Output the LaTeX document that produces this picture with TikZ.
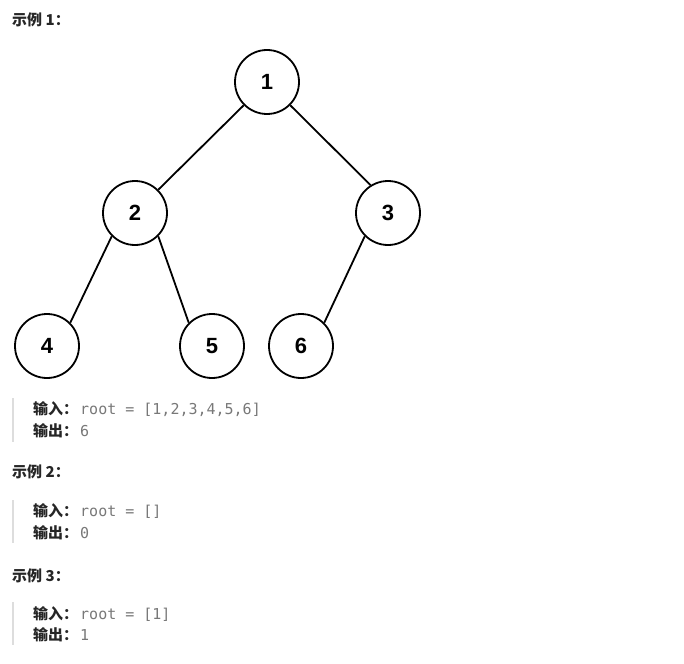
\documentclass[tikz,border=0pt]{standalone}
\usepackage{fontspec}
\setmainfont{Liberation Sans}
\newfontfamily\cjk{Noto Sans CJK SC}
\newfontfamily\monof{DejaVu Sans Mono}
\definecolor{txt}{HTML}{262626}
\definecolor{val}{HTML}{787878}
\definecolor{barc}{HTML}{DDDDDD}
\begin{document}
\begin{tikzpicture}[x=1pt,y=-1pt,
  tnode/.style={circle,draw=black,line width=1.8pt,minimum size=64pt,inner sep=0pt,font=\fontsize{22}{22}\selectfont\bfseries},
  edge/.style={line width=1.8pt,black},
  title/.style={anchor=base west,inner sep=0pt,text=txt,font=\cjk\bfseries\fontsize{15}{15}\selectfont},
  lab/.style={anchor=base west,inner sep=0pt,text=txt,font=\cjk\bfseries\fontsize{15}{15}\selectfont},
  value/.style={anchor=base west,inner sep=0pt,text=val,font=\monof\fontsize{15}{15}\selectfont},
  bar/.style={barc,line width=2.5pt}]
\useasboundingbox[fill=white] (0,0) rectangle (684,663);
% tree
\node[tnode] (n1) at (267,82) {1};
\node[tnode] (n2) at (135,213) {2};
\node[tnode] (n3) at (388,213) {3};
\node[tnode] (n4) at (47,346) {4};
\node[tnode] (n5) at (212,346) {5};
\node[tnode] (n6) at (301,346) {6};
\draw[edge] (n1.225) -- (n2.45);
\draw[edge] (n1.-45) -- (n3.122);
\draw[edge] (n2.225) -- (n4.45);
\draw[edge] (n2.-45) -- (n5.135);
\draw[edge] (n3.225) -- (n6.45);
% example 1
\node[title] (t1) at (12,25.5) {示例 1：};
\coordinate (b1a) at (13,398);
\coordinate (b1b) at (13,442);
\draw[bar] (b1a) -- (b1b);
\node[lab] (i1) at (33,414) {输入：};
\node[value] (v1) at (80,414) {root = [1,2,3,4,5,6]};
\node[lab] (o1) at (33,436) {输出：};
\node[value] (w1) at (80,436) {6};
% example 2
\node[title] (t2) at (12,477.5) {示例 2：};
\coordinate (b2a) at (13,500);
\coordinate (b2b) at (13,543);
\draw[bar] (b2a) -- (b2b);
\node[lab] (i2) at (33,516.5) {输入：};
\node[value] (v2) at (80,516.5) {root = []};
\node[lab] (o2) at (33,538) {输出：};
\node[value] (w2) at (80,538) {0};
% example 3
\node[title] (t3) at (12,581.5) {示例 3：};
\coordinate (b3a) at (13,602);
\coordinate (b3b) at (13,645);
\draw[bar] (b3a) -- (b3b);
\node[lab] (i3) at (33,619.5) {输入：};
\node[value] (v3) at (80,619.5) {root = [1]};
\node[lab] (o3) at (33,640.5) {输出：};
\node[value] (w3) at (80,640.5) {1};
\end{tikzpicture}
\end{document}
